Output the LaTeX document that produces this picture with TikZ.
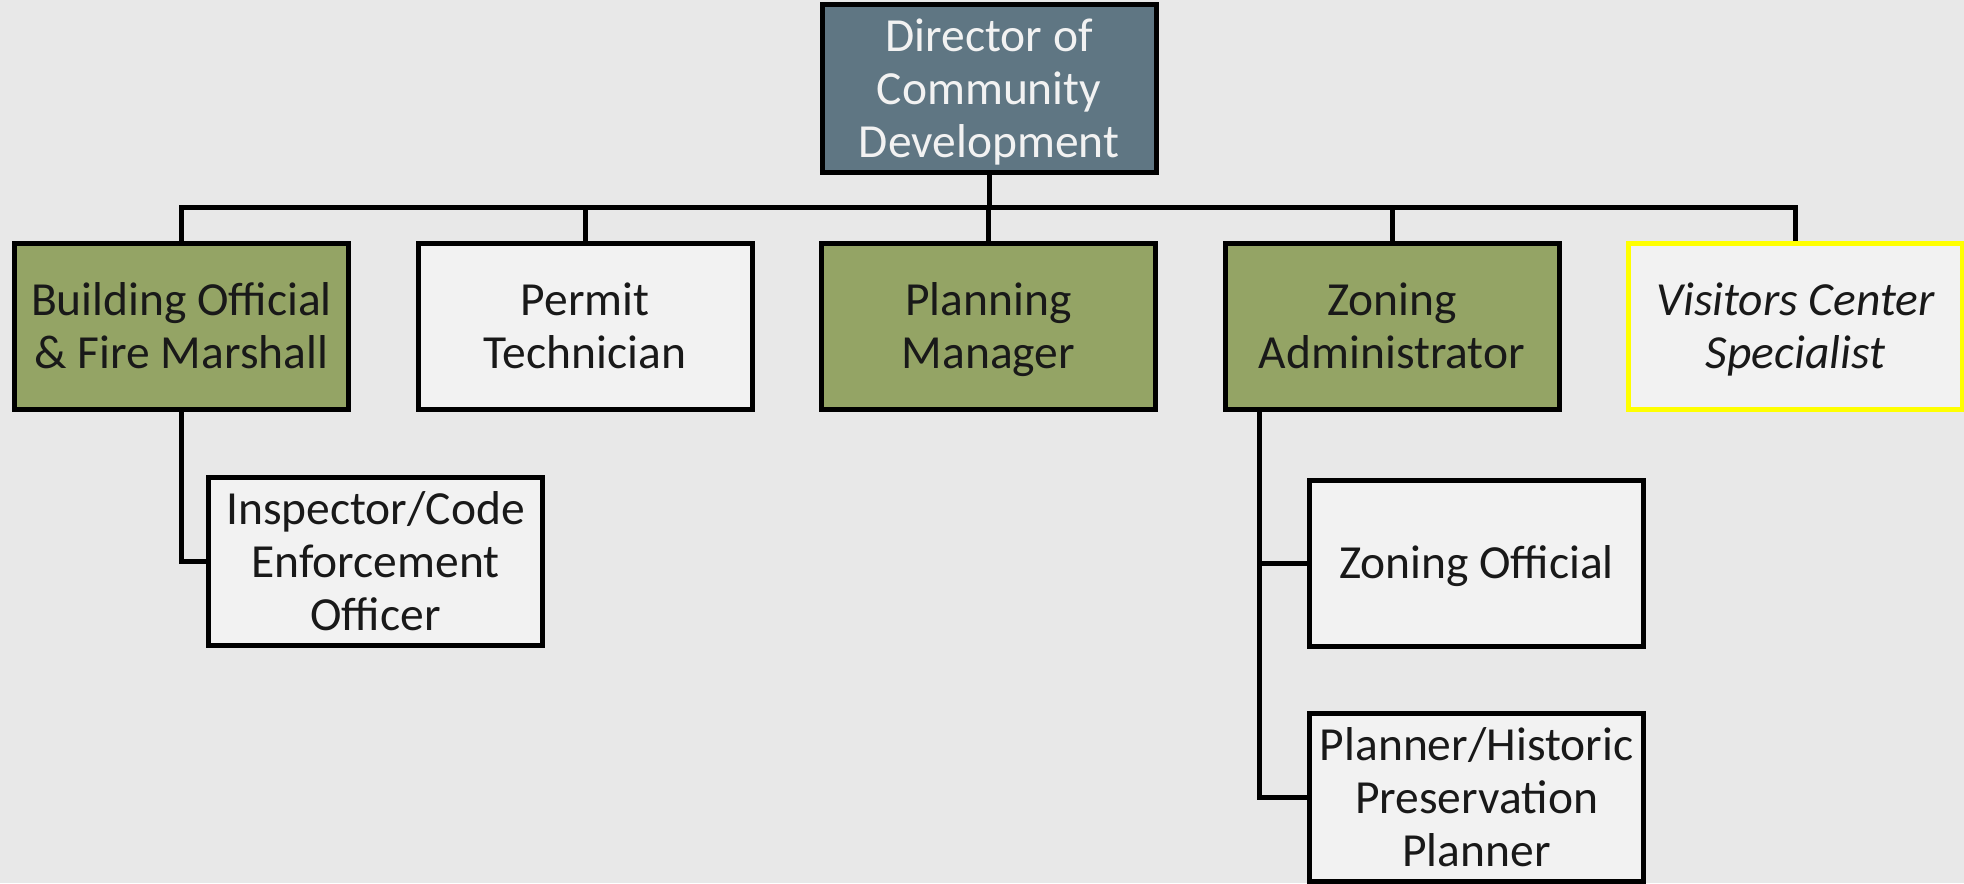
\documentclass[tikz,border=0pt]{standalone}
\usepackage{fontspec}
\setmainfont{Carlito}
\definecolor{pagebg}{HTML}{E8E8E8}
\definecolor{slate}{HTML}{5F7683}
\definecolor{olive}{HTML}{94A465}
\definecolor{paper}{HTML}{F2F2F2}
\definecolor{hilite}{HTML}{FFFF00}
% first-line strut, a little taller than \strut so labels sit slightly low
\newcommand{\tallstrut}{\rule{0pt}{47pt}}
\begin{document}
\begin{tikzpicture}[x=1pt,y=-1pt,
  box/.style={draw=black, line width=5pt, minimum width=334pt, minimum height=166pt,
    align=center, inner sep=0pt, font=\fontsize{47.5}{53}\selectfont, text=black!90},
  headbox/.style={box, fill=slate, text=paper},
  leadbox/.style={box, fill=olive},
  staffbox/.style={box, fill=paper},
  vacantbox/.style={box, fill=paper, draw=hilite, font=\fontsize{47.5}{53}\selectfont\itshape},
  link/.style={draw=black, line width=5pt, line join=miter}]
\fill[pagebg] (0,0) rectangle (1964,883);
\useasboundingbox (0,0) rectangle (1964,883);

% director and bus line
\node[headbox] (dir) at (989,88.5) {\tallstrut Director of\\Community\\Development\strut};
\coordinate (bus) at (0,207.5);

% first level
\node[leadbox]   (bo) at (181.5,326.5) {\tallstrut Building Official\\\& Fire Marshall\strut};
\node[staffbox]  (pt) at (585,326.5)   {\tallstrut Permit\\Technician\strut};
\node[leadbox]   (pm) at (988.5,326.5) {\tallstrut Planning\\Manager\strut};
\node[leadbox]   (za) at (1392,326.5)  {\tallstrut Zoning\\Administrator\strut};
\node[vacantbox] (vc) at (1795.5,326.5) {\tallstrut Visitors Center\\Specialist\strut};

% second level
\node[staffbox] (ins) at (375.5,561.5) {\tallstrut Inspector/Code\\Enforcement\\Officer\strut};
\node[staffbox] (zo)  at (1476.5,563)  {\tallstrut Zoning Official\strut};
\node[staffbox] (hp)  at (1476.5,797.5) {\tallstrut Planner/Historic\\Preservation\\Planner\strut};

% connectors
\draw[link] (dir.south) -- (dir.south |- bus);
\draw[link] (bo.north) -- (bo.north |- bus) -- (vc.north |- bus) -- (vc.north);
\draw[link] (pt.north) -- (pt.north |- bus);
\draw[link] (pm.north) -- (pm.north |- bus);
\draw[link] (za.north) -- (za.north |- bus);

\draw[link] (bo.south) |- (ins.west);
\coordinate (zstem) at ([xshift=37pt]za.south west);
\draw[link] (zstem) |- (hp.west);
\draw[link] (zstem |- zo.west) -- (zo.west);
\end{tikzpicture}
\end{document}
